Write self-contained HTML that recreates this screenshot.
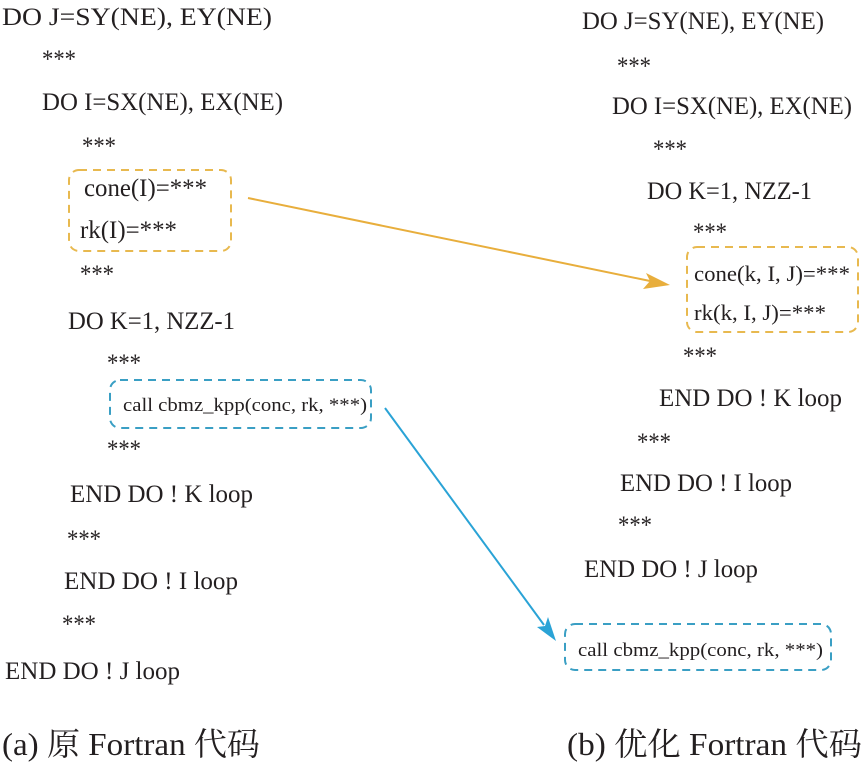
<!DOCTYPE html>
<html><head><meta charset="utf-8"><style>
html,body{margin:0;padding:0;background:#fff;}
svg text{font-family:"Liberation Serif","Noto Serif CJK SC",serif;fill:#231f20;}
</style></head><body>
<svg width="864" height="764" xmlns="http://www.w3.org/2000/svg">
<g font-size="25" lengthAdjust="spacingAndGlyphs">
<text x="2" y="25" textLength="270" lengthAdjust="spacingAndGlyphs">DO J=SY(NE), EY(NE)</text>
<text x="42" y="67" textLength="34" lengthAdjust="spacingAndGlyphs">***</text>
<text x="42" y="110" textLength="241" lengthAdjust="spacingAndGlyphs">DO I=SX(NE), EX(NE)</text>
<text x="82" y="154" textLength="34" lengthAdjust="spacingAndGlyphs">***</text>
<text x="84" y="196" textLength="123" lengthAdjust="spacingAndGlyphs">cone(I)=***</text>
<text x="80" y="238" textLength="97" lengthAdjust="spacingAndGlyphs">rk(I)=***</text>
<text x="80" y="282" textLength="34" lengthAdjust="spacingAndGlyphs">***</text>
<text x="68" y="329" textLength="167" lengthAdjust="spacingAndGlyphs">DO K=1, NZZ-1</text>
<text x="107" y="371" textLength="34" lengthAdjust="spacingAndGlyphs">***</text>
<text x="107" y="457" textLength="34" lengthAdjust="spacingAndGlyphs">***</text>
<text x="70" y="502" textLength="183" lengthAdjust="spacingAndGlyphs">END DO ! K loop</text>
<text x="67" y="547" textLength="34" lengthAdjust="spacingAndGlyphs">***</text>
<text x="64" y="589" textLength="174" lengthAdjust="spacingAndGlyphs">END DO ! I loop</text>
<text x="62" y="632" textLength="34" lengthAdjust="spacingAndGlyphs">***</text>
<text x="5" y="679" textLength="175" lengthAdjust="spacingAndGlyphs">END DO ! J loop</text>

<text x="582" y="29" textLength="242" lengthAdjust="spacingAndGlyphs">DO J=SY(NE), EY(NE)</text>
<text x="617" y="74" textLength="34" lengthAdjust="spacingAndGlyphs">***</text>
<text x="612" y="114" textLength="240" lengthAdjust="spacingAndGlyphs">DO I=SX(NE), EX(NE)</text>
<text x="653" y="157" textLength="34" lengthAdjust="spacingAndGlyphs">***</text>
<text x="647" y="199" textLength="165" lengthAdjust="spacingAndGlyphs">DO K=1, NZZ-1</text>
<text x="693" y="240" textLength="34" lengthAdjust="spacingAndGlyphs">***</text>
<text x="694" y="281" font-size="22" textLength="156" lengthAdjust="spacingAndGlyphs">cone(k, I, J)=***</text>
<text x="694" y="320" font-size="22" textLength="132" lengthAdjust="spacingAndGlyphs">rk(k, I, J)=***</text>
<text x="683" y="364" textLength="34" lengthAdjust="spacingAndGlyphs">***</text>
<text x="659" y="406" textLength="183" lengthAdjust="spacingAndGlyphs">END DO ! K loop</text>
<text x="637" y="450" textLength="34" lengthAdjust="spacingAndGlyphs">***</text>
<text x="620" y="491" textLength="172" lengthAdjust="spacingAndGlyphs">END DO ! I loop</text>
<text x="618" y="533" textLength="34" lengthAdjust="spacingAndGlyphs">***</text>
<text x="584" y="577" textLength="174" lengthAdjust="spacingAndGlyphs">END DO ! J loop</text>
</g>
<text x="123" y="411" font-size="19" textLength="244" lengthAdjust="spacingAndGlyphs">call cbmz_kpp(conc, rk, ***)</text>
<text x="578" y="656" font-size="19" textLength="245" lengthAdjust="spacingAndGlyphs">call cbmz_kpp(conc, rk, ***)</text>

<rect x="69" y="170" width="162" height="81" rx="10" fill="none" stroke="#e8b94f" stroke-width="2" stroke-dasharray="8,6"/>
<rect x="687" y="247" width="171" height="85" rx="10" fill="none" stroke="#e8b94f" stroke-width="2" stroke-dasharray="8,6"/>
<rect x="110" y="380" width="261" height="48" rx="10" fill="none" stroke="#3a9fc4" stroke-width="2" stroke-dasharray="8,6"/>
<rect x="565" y="624" width="266" height="46" rx="10" fill="none" stroke="#3a9fc4" stroke-width="2" stroke-dasharray="8,6"/>

<line x1="248" y1="198" x2="650" y2="281" stroke="#e8ae3c" stroke-width="2"/>
<path d="M670,285 L646,273 L650,281 L643,289 z" fill="#e8ae3c"/>
<line x1="385" y1="408" x2="544" y2="625" stroke="#2aa3d6" stroke-width="2"/>
<path d="M556,641 L537,627 L545,626 L548,617 z" fill="#2aa3d6"/>

<text x="2" y="755" font-size="32" textLength="258" lengthAdjust="spacingAndGlyphs">(a) 原 Fortran 代码</text>
<text x="567" y="755" font-size="32" textLength="295" lengthAdjust="spacingAndGlyphs">(b) 优化 Fortran 代码</text>
</svg>
</body></html>
